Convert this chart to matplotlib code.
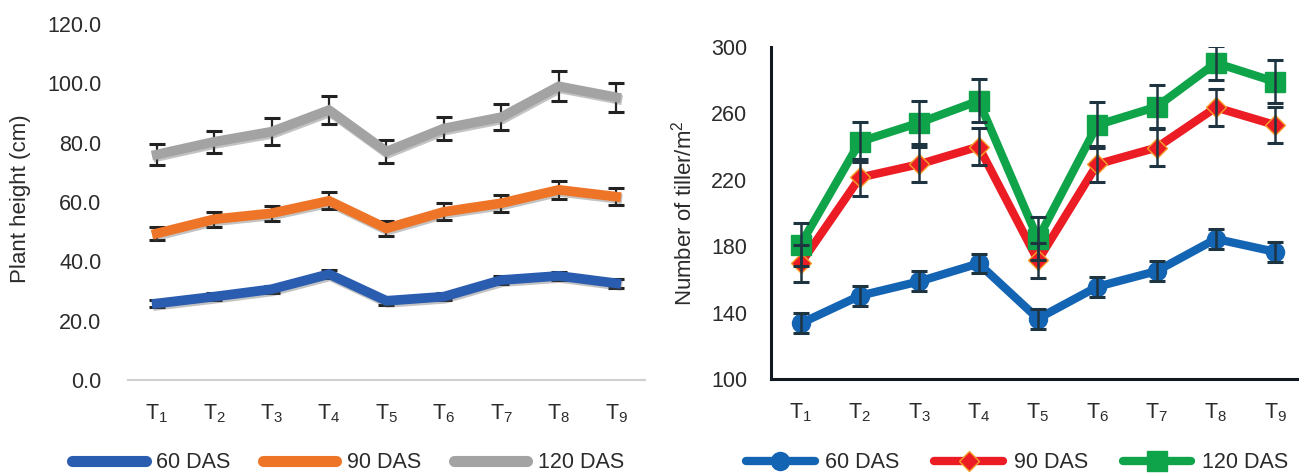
import matplotlib
matplotlib.use("Agg")
import matplotlib.pyplot as plt
import matplotlib.patheffects as pe
from matplotlib.lines import Line2D

plt.rcParams['font.family'] = ['Liberation Sans', 'DejaVu Sans']

treatments = ['1', '2', '3', '4', '5', '6', '7', '8', '9']
series_names = ['60 DAS', '90 DAS', '120 DAS']

# plant height (cm)
height_60 = [25.8, 28.1, 30.6, 35.7, 26.7, 28.1, 33.7, 35.1, 32.6]
height_90 = [49.4, 54.2, 56.2, 60.4, 51.1, 56.7, 59.6, 64.1, 61.8]
height_120 = [76.0, 80.3, 83.7, 91.0, 77.0, 84.8, 88.6, 99.0, 95.3]
height_60_err = [1.3, 1.2, 1.2, 1.3, 1.3, 1.2, 1.4, 1.3, 1.5]
height_90_err = [2.2, 2.6, 2.5, 2.9, 2.4, 2.9, 2.8, 3.1, 2.9]
height_120_err = [3.6, 3.8, 4.5, 4.6, 3.8, 4.0, 4.3, 5.0, 4.8]

# tillers per m2
tiller_60 = [133.5, 150.2, 158.8, 169.6, 136.4, 155.6, 165.0, 184.4, 176.6]
tiller_90 = [169.6, 221.4, 229.4, 240.0, 171.4, 229.4, 239.4, 263.6, 253.0]
tiller_120 = [181.0, 243.0, 254.4, 267.6, 184.4, 253.0, 264.0, 290.4, 279.0]
tiller_60_err = [6, 6, 6, 6, 6, 6, 6, 6, 6]
tiller_90_err = [11, 11, 10.5, 11, 10.5, 11, 11, 11, 11]
tiller_120_err = [13, 12, 13, 13, 13, 14, 13, 10, 13]

labels = [r'$\mathregular{T_{%s}}$' % t for t in treatments]
x = list(range(len(treatments)))

fig = plt.figure(figsize=(12.99, 4.73), dpi=100)
fs = 15.5

# ---- left panel: plant height
ax1 = fig.add_axes([0.0985, 0.1966, 0.398, 0.7526])
left_colors = ['#2A5CAF', '#EE7427', '#A3A3A3']
shadow = [pe.SimpleLineShadow(offset=(0.8, -1.5), shadow_color='#555555', alpha=0.35), pe.Normal()]
for vals, errs, c in zip([height_60, height_90, height_120],
                         [height_60_err, height_90_err, height_120_err], left_colors):
    ax1.errorbar(x, vals, yerr=errs, fmt='none', ecolor='#222222', elinewidth=1.6,
                 capsize=6, capthick=2.2, zorder=2)
    ax1.plot(x, vals, color=c, lw=7, solid_joinstyle='miter', zorder=3, path_effects=shadow)

ax1.set_xlim(-0.5, 8.5)
ax1.set_ylim(0, 120)
ax1.set_yticks([0, 20, 40, 60, 80, 100, 120])
ax1.set_yticklabels(['%.1f' % v for v in [0, 20, 40, 60, 80, 100, 120]])
ax1.set_xticks(x)
ax1.set_xticklabels(labels)
for s in ['top', 'right', 'left']:
    ax1.spines[s].set_visible(False)
ax1.spines['bottom'].set_color('#D0D0D0')
ax1.spines['bottom'].set_linewidth(1.5)
ax1.tick_params(axis='both', length=0, labelsize=fs, colors='#2B2B2B')
ax1.tick_params(axis='y', pad=19)
ax1.tick_params(axis='x', pad=16)
fig.text(0.016, 0.58, 'Plant height (cm)', rotation=90, ha='center', va='center',
         fontsize=16, color='#2B2B2B')

left_handles = [Line2D([0], [0], color=c, lw=8, solid_capstyle='round') for c in left_colors]
fig.legend(left_handles, series_names, loc='center', bbox_to_anchor=(0.268, 0.022),
           ncol=3, frameon=False, fontsize=fs, handlelength=3.4, handletextpad=0.5,
           columnspacing=1.5, labelcolor='#2B2B2B')

# ---- right panel: tillers
ax2 = fig.add_axes([0.5935, 0.1987, 0.4065, 0.7019])
right_colors = ['#1464B4', '#EC1C24', '#10A44A']
markers = ['o', 'D', 's']
msizes = [13, 10, 15]
medges = ['#1464B4', '#F5A02A', '#10A44A']
for vals, errs, c, m, ms, me in zip([tiller_60, tiller_90, tiller_120],
                                    [tiller_60_err, tiller_90_err, tiller_120_err],
                                    right_colors, markers, msizes, medges):
    ax2.plot(x, vals, color=c, lw=6, marker=m, markersize=ms, markeredgecolor=me,
             markeredgewidth=1, zorder=3)
    ax2.errorbar(x, vals, yerr=errs, fmt='none', ecolor='#1E3440', elinewidth=1.8,
                 capsize=6, capthick=2.2, zorder=4)

ax2.set_xlim(-0.5, 8.4)
ax2.set_ylim(100, 300)
ax2.set_yticks([100, 140, 180, 220, 260, 300])
ax2.set_xticks(x)
ax2.set_xticklabels(labels)
for s in ['top', 'right']:
    ax2.spines[s].set_visible(False)
for s in ['left', 'bottom']:
    ax2.spines[s].set_color('#111820')
    ax2.spines[s].set_linewidth(2.2)
ax2.tick_params(axis='both', length=0, labelsize=fs, colors='#2B2B2B')
ax2.tick_params(axis='y', pad=17)
ax2.tick_params(axis='x', pad=16)
fig.text(0.526, 0.55, r'Number of tiller/m$\mathregular{^2}$', rotation=90, ha='center',
         va='center', fontsize=16, color='#2B2B2B')

right_handles = [Line2D([0], [0], color=c, lw=6, marker=m, markersize=ms,
                        markeredgecolor=me, solid_capstyle='round')
                 for c, m, ms, me in zip(right_colors, markers, msizes, medges)]
fig.legend(right_handles, series_names, loc='center', bbox_to_anchor=(0.783, 0.022),
           ncol=3, frameon=False, fontsize=fs, handlelength=3.2, handletextpad=0.5,
           columnspacing=1.6, labelcolor='#2B2B2B')

fig.savefig('out.png', dpi=100)
